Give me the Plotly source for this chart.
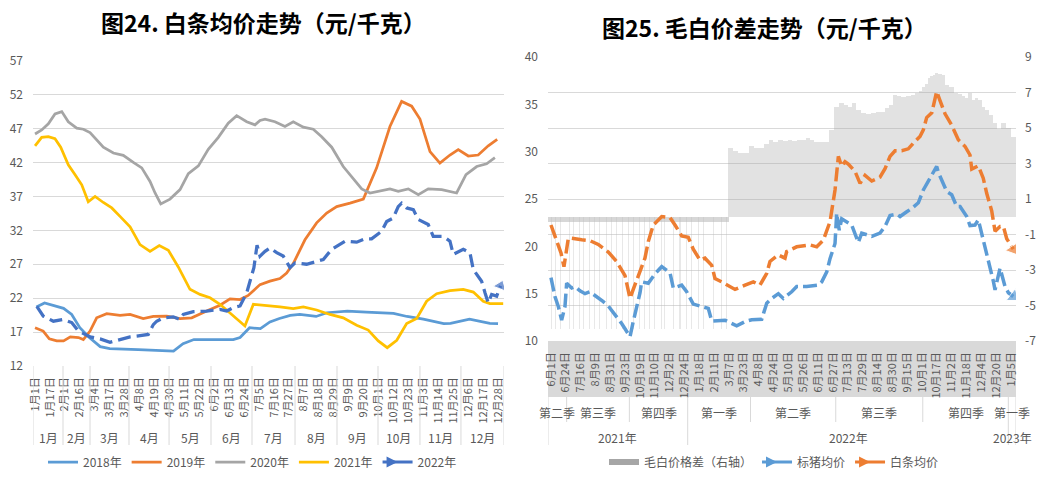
import numpy as np
import plotly.graph_objects as go

W, H = 1043, 477
ML, MR, MT, MB = 33, 27, 57, 111          # plot-area box inside the figure
IW, IH = W - ML - MR, H - MT - MB
FONT = "Noto Sans CJK SC, Noto Sans, sans-serif"
TXT = "#595959"
GRID = "#D9D9D9"

# ======================= 图24  白条均价走势 =======================
# x = category ordinal (row of the daily table), labelled every 11 rows
ticks24 = ["1月1日", "1月17日", "2月1日", "2月16日", "3月4日", "3月17日", "3月28日", "4月8日",
           "4月19日", "4月30日", "5月11日", "5月22日", "6月2日", "6月13日", "6月24日", "7月5日",
           "7月16日", "7月27日", "8月7日", "8月18日", "8月29日", "9月9日", "9月20日", "10月1日",
           "10月12日", "10月23日", "11月3日", "11月14日", "11月25日", "12月6日", "12月17日", "12月28日"]
tick_rows24 = [11 * i for i in range(len(ticks24))]
months24 = ["1月", "2月", "3月", "4月", "5月", "6月", "7月", "8月", "9月", "10月", "11月", "12月"]
month_edges24 = [-1.5, 20.6, 40.5, 69.2, 98.7, 129.6, 159.8, 191.5, 222.4, 252.6, 283.5, 313.7, 345.4]

y2018 = [(1, 20.7), (7, 21.3), (21, 20.5), (27, 19.6), (33, 17.65), (40, 16.2), (48, 14.85), (55, 14.55),
         (76, 14.4), (97, 14.3), (102, 14.2), (109, 15.3), (117, 15.9), (131, 15.9), (146, 15.9), (151, 16.2),
         (158, 17.65), (166, 17.5), (173, 18.5), (180, 19.0), (188, 19.45), (195, 19.6), (207, 19.3),
         (215, 19.85), (230, 20.1), (244, 19.95), (264, 19.75), (274, 19.3), (286, 18.9), (301, 18.25),
         (306, 18.3), (320, 18.9), (330, 18.55), (335, 18.3), (341, 18.25)]
y2019 = [(0, 17.65), (6, 17.15), (10.5, 16.0), (16, 15.7), (21, 15.7), (26, 16.3), (32, 16.2), (35.6, 15.9),
         (40.5, 17.15), (45.4, 19.1), (52.8, 19.7), (62.6, 19.45), (70, 19.6), (79.7, 19.0), (87.1, 19.3),
         (97, 19.35), (106.8, 19.0), (115.4, 19.1), (126.4, 20.1), (136.2, 20.95), (143.6, 21.9), (151, 21.8),
         (157, 22.4), (165.7, 24.0), (173, 24.5), (180.4, 24.9), (185.3, 25.7), (190.2, 27.1), (198.8, 30.6),
         (207.4, 33.1), (214.8, 34.55), (222.2, 35.5), (232, 36.0), (241.8, 36.6), (251.6, 41.2),
         (261.4, 47.3), (270, 51.0), (277.4, 50.3), (283.5, 48.4), (290.9, 43.6), (298.2, 41.9),
         (305.6, 43.1), (311.7, 43.9), (319.1, 42.95), (326.4, 43.1), (333.8, 44.45), (340.4, 45.4)]
y2020 = [(0, 46.2), (4.9, 46.8), (9.8, 47.7), (14.7, 49.15), (19.7, 49.5), (24.5, 48.0), (30.7, 47.05),
         (35.6, 46.9), (40.5, 46.4), (45.4, 45.35), (50.3, 44.25), (57.7, 43.4), (65, 43.05), (72.4, 42.0),
         (78.6, 41.2), (84.7, 39.2), (88.4, 37.5), (92.6, 35.9), (99.4, 36.6), (106.8, 38.0), (112.9, 40.35),
         (120.3, 41.5), (127.6, 43.95), (135, 45.7), (142.3, 47.8), (148.5, 48.9), (155.9, 48.0), (162, 47.55),
         (165.7, 48.2), (169.4, 48.4), (176.7, 48.0), (184.1, 47.3), (190.2, 48.0), (197.6, 47.2),
         (204.9, 46.9), (211.1, 45.8), (218.5, 44.25), (227, 41.4), (233.2, 39.95), (240.6, 38.1),
         (246.7, 37.5), (254, 37.75), (261.4, 38.1), (267.5, 37.75), (274.9, 38.1), (282.3, 37.25),
         (289.6, 38.1), (299.5, 38.0), (310.5, 37.5), (317.4, 40.2), (325.3, 41.4), (332.6, 41.8), (338.7, 42.7)]
y2021 = [(0, 44.45), (4.9, 45.7), (9.8, 45.8), (14.7, 45.5), (18.9, 44.25), (24.5, 41.65), (29.5, 40.2),
         (34.4, 38.7), (39.2, 36.2), (44.2, 37.0), (50.3, 36.1), (56.5, 35.3), (62.6, 34.05), (70, 32.5),
         (77.3, 29.9), (84.7, 28.9), (91.5, 29.75), (98.2, 29.05), (105.5, 26.6), (114.1, 23.3), (121.5, 22.55),
         (128.9, 22.05), (136.2, 21.1), (146, 19.35), (154.6, 17.9), (160.8, 21.1), (170.6, 20.95),
         (180.4, 20.7), (190.2, 20.45), (197.6, 20.7), (207.4, 20.25), (217.2, 19.6), (227, 19.1),
         (236.9, 18.0), (245.4, 17.3), (252.8, 15.7), (259.4, 14.7), (266.4, 15.8), (273.7, 18.25),
         (281.1, 19.0), (288.4, 21.55), (295.8, 22.65), (305.6, 23.1), (315.4, 23.3), (322.8, 22.9),
         (330.1, 21.55), (335, 21.2), (344.8, 21.2)]
y2022 = [(1.3, 20.8), (6.1, 19.35), (13.5, 18.6), (20.8, 18.85), (27, 18.4), (31.9, 17.15), (40.5, 16.3),
         (47.9, 16.0), (55.2, 15.5), (62.6, 15.9), (70, 16.3), (74.9, 16.4), (83.4, 16.65), (87.1, 18.1),
         (89.6, 18.6), (94.5, 19.1), (101.8, 19.25), (106.8, 18.85), (109.2, 19.6), (116.6, 20.0),
         (126.4, 20.1), (136.2, 20.35), (141.2, 20.1), (146, 20.6), (151, 20.85), (155.9, 22.8),
         (158.3, 24.5), (161.2, 26.5), (163.5, 29.8), (165.7, 28.2), (169.4, 28.9), (173, 29.4), (178, 28.7),
         (182.8, 28.2), (187.8, 26.5), (191.5, 27.2), (200, 27.0), (207.4, 27.45), (212.3, 27.7),
         (218.5, 29.2), (224.6, 29.9), (228.3, 30.4), (236.9, 30.25), (243, 30.75), (247.9, 30.75),
         (255.3, 31.85), (259, 33.3), (263.8, 33.8), (267.5, 35.5), (270, 36.0), (273.7, 35.3), (278.6, 35.05),
         (282.3, 33.6), (289.6, 32.85), (293.3, 31.1), (300.7, 31.1), (305.6, 30.4), (308, 28.45),
         (315.4, 29.2), (320.3, 28.7), (322.8, 26.2), (328.9, 24.5), (331.4, 22.8), (333.8, 21.3),
         (336.3, 22.55), (340, 22.3), (342.9, 23.8)]

# ======================= 图25  毛白价差走势 =======================
# x = category ordinal (trading-day row), labelled every 16 rows
ticks25 = ["6月1日", "6月24日", "7月16日", "8月9日", "8月31日", "9月23日", "10月19日", "11月10日",
           "12月2日", "12月24日", "1月18日", "2月11日", "3月7日", "3月23日", "4月8日", "4月24日",
           "5月10日", "5月26日", "6月11日", "6月27日", "7月13日", "7月29日", "8月14日", "8月30日",
           "9月15日", "10月1日", "10月17日", "11月2日", "11月18日", "12月4日", "12月20日", "1月5日"]
tick_rows25 = [16 * i for i in range(len(ticks25))]
quarters25 = ["第二季", "第三季", "第四季", "第一季", "第二季", "第三季", "第四季", "第一季"]
quarter_edges25 = [-3.2, 16.9, 84.5, 147.4, 215.1, 307, 400.8, 493, 501.3]
years25 = ["2021年", "2022年", "2023年"]
year_edges25 = [-3.2, 147.4, 493, 501.3]

pig_price = [(0, 16.7), (4.3, 14.7), (7.9, 13.65), (11.5, 12.2), (15.1, 13.65), (16.9, 16.1), (22.3, 15.6),
             (25.9, 15.75), (31.3, 15.3), (36.7, 15.0), (42, 15.2), (49.3, 14.7), (56.4, 14.15), (61.8, 13.7),
             (69, 12.8), (76.2, 11.85), (79.8, 11.3), (85.2, 10.45), (88.7, 12.05), (92.4, 13.45), (96, 15.1),
             (97.8, 16.25), (104.9, 16.1), (112.1, 17.1), (119.4, 17.85), (128.3, 17.2), (131.9, 15.6),
             (140.9, 15.9), (146.3, 15.2), (153.4, 13.9), (160.6, 13.7), (169.6, 13.45), (173.3, 12.1),
             (184, 12.2), (187.6, 12.2), (200.2, 11.6), (205.6, 11.85), (209.2, 12.05), (216.4, 12.25),
             (227.2, 12.3), (232.6, 14.0), (238, 14.5), (245.1, 15.0), (250.5, 14.5), (259.5, 15.2),
             (264.9, 15.75), (275.7, 15.75), (288.2, 15.9), (291.9, 16.25), (297.3, 17.3), (300.8, 18.7),
             (306.2, 20.3), (308, 23.5), (310.8, 21.7), (313.4, 22.9), (318.8, 22.6), (324.2, 22.25),
             (331.3, 20.4), (335, 21.4), (345.8, 21.05), (354.7, 21.4), (360.1, 22.1), (365.5, 23.25),
             (372.7, 23.4), (376.3, 23.15), (383.5, 23.65), (388.9, 24.0), (396, 24.6), (401.4, 25.95),
             (408.6, 27.2), (412.2, 27.9), (415.8, 28.45), (417.6, 27.8), (423, 26.5), (426.6, 25.8),
             (432, 25.45), (437.4, 24.2), (441, 24.2), (448.2, 23.15), (451.7, 22.2), (457.1, 22.25),
             (460.7, 22.8), (462.5, 22.1), (466, 20.65), (469.7, 19.1), (473.3, 17.85), (476.9, 16.3),
             (478.7, 15.4), (484.1, 17.7), (489.5, 15.75), (493.1, 15.1), (498.4, 14.7)]
carcass_price = [(0, 22.25), (6.1, 20.5), (10.8, 19.3), (14, 17.85), (16.2, 19.5), (18.7, 20.85), (22.3, 20.85),
                 (27.7, 20.75), (33.1, 20.7), (42, 20.6), (51, 20.2), (61.8, 19.4), (70.8, 18.4), (79.8, 16.9),
                 (85.2, 14.5), (88.7, 15.45), (94.1, 16.95), (101.3, 18.75), (104.9, 20.5), (110.3, 22.25),
                 (119.4, 23.15), (128.3, 23.05), (133.7, 22.25), (140.9, 21.1), (148, 20.95), (153.4, 19.7),
                 (160.6, 18.55), (166, 18.75), (173.3, 18.0), (176.8, 16.6), (184, 16.25), (191.2, 15.9),
                 (198.4, 15.45), (209.2, 15.9), (218.1, 16.25), (225.3, 15.9), (232.6, 17.15), (236.1, 18.4),
                 (245.1, 19.1), (252.3, 18.75), (254.1, 19.45), (264.9, 19.95), (279.2, 20.15), (286.5, 19.95),
                 (293.6, 20.65), (300.8, 22.6), (306.2, 25.95), (309.8, 29.5), (313.4, 28.45), (317, 28.95),
                 (320.5, 28.7), (327.8, 27.9), (333.2, 26.65), (338.6, 27.5), (345.8, 26.9), (354.7, 27.3),
                 (360.1, 28.2), (365.5, 29.5), (370.9, 30.1), (378.1, 30.1), (385.2, 30.3), (390.6, 30.9),
                 (397.8, 31.6), (401.4, 32.3), (405, 33.6), (410.5, 34.1), (415.8, 36.35), (419.4, 35.4),
                 (424.8, 34.0), (432, 32.8), (439.1, 31.25), (446.4, 30.55), (451.7, 29.65), (453.6, 28.15),
                 (460.7, 28.5), (466, 27.2), (469.7, 25.6), (475.1, 23.75), (478.7, 21.6), (484.1, 22.1),
                 (487.7, 22.1), (491.3, 20.8), (498.4, 19.7)]
# 毛白价格差 (right axis)
spread_2021_rows = [0.8, 5.4, 10.5, 19.7, 24, 30.5, 34.8, 41.3, 47.4, 52.8, 60, 65.4, 70.8, 77.3, 83.3, 88.7,
                    95.9, 101.3, 106.7, 112.1, 119.4, 122.9, 131.9, 139.1, 146.3, 151.7, 158.8, 164.2, 175,
                    184, 189.4]
spread_2021_small = -0.28
spread_2021_spike = -6.3
spread_2022 = [(193, 3.85), (198.4, 3.7), (205.6, 3.58), (210, 3.6), (216.4, 3.99), (221, 3.9), (227.2, 3.9),
               (232, 4.1), (238, 4.3), (241.5, 4.2), (246.9, 4.3), (252.3, 4.25), (257.7, 4.3), (263, 4.25),
               (268.5, 4.3), (272.8, 4.35), (277.4, 4.42), (281.4, 4.3), (286.5, 4.23), (291.1, 4.2),
               (297.3, 4.23), (302.6, 4.89), (308, 6.2), (313.4, 6.39), (318.8, 6.3), (322.4, 6.2), (326, 6.39),
               (331.3, 6.0), (336.7, 5.83), (341.8, 5.8), (347.5, 5.83), (352.6, 5.9), (358.3, 5.92),
               (362.3, 6.1), (367.3, 6.3), (370.9, 6.86), (375.2, 6.8), (379.8, 6.76), (384.9, 6.8),
               (390.6, 6.86), (394.6, 6.95), (397.8, 7.1), (401.6, 7.3), (405, 7.5), (407.5, 7.8), (410.5, 7.95),
               (413, 8.0), (415.8, 8.08), (419.4, 8.05), (423, 8.0), (426.6, 7.4), (432, 7.3), (437.4, 6.95),
               (441, 6.9), (444.6, 6.8), (448.2, 6.7), (451.7, 7.0), (455.3, 6.56), (459, 6.67), (462.5, 6.6),
               (466, 6.2), (470, 6.0), (475.1, 5.75), (478.7, 5.3), (482.3, 4.95), (487.7, 5.26), (493.1, 5.0),
               (498.4, 4.51)]


def xs(pairs):
    return [p[0] for p in pairs]


def vs(pairs):
    return [p[1] for p in pairs]


def px_x(px):          # figure pixel -> paper x (plot-area box)
    return (px - ML) / IW


def px_y(px):          # figure pixel (from top) -> paper y
    return (H - MB - px) / IH


def bar_edges(rows, left=None):
    r = np.asarray(rows, float)
    mids = (r[1:] + r[:-1]) / 2
    first = r[0] - (r[1] - r[0]) / 2 if left is None else left
    last = r[-1] + (r[-1] - r[-2]) / 2
    e = np.concatenate([[first], mids, [last]])
    return r, e[:-1] - r, np.diff(e)


fig = go.Figure()

# ---------- left chart ----------
for name, data, col in [("2018年", y2018, "#5B9BD5"), ("2019年", y2019, "#ED7D31"),
                        ("2020年", y2020, "#A5A5A5"), ("2021年", y2021, "#FFC000")]:
    fig.add_trace(go.Scatter(x=xs(data), y=vs(data), mode="lines", name=name,
                             line=dict(color=col, width=2.75), xaxis="x", yaxis="y", legend="legend"))
C22 = "#4472C4"
fig.add_trace(go.Scatter(x=xs(y2022), y=vs(y2022), mode="lines", showlegend=False,
                         line=dict(color=C22, width=3.25, dash="13px,6px"), xaxis="x", yaxis="y"))
fig.add_trace(go.Scatter(x=xs(y2022)[-2:], y=vs(y2022)[-2:], mode="markers", showlegend=False,
                         marker=dict(symbol="triangle-up", angleref="previous", size=[0, 12], color=C22),
                         xaxis="x", yaxis="y"))
fig.add_trace(go.Scatter(x=[None], y=[None], mode="lines+markers", name="2022年",
                         line=dict(color=C22, width=3), marker=dict(symbol="arrow-right", size=11, color=C22),
                         xaxis="x", yaxis="y", legend="legend"))

# ---------- right chart: bars ----------
r, off, wid = bar_edges(spread_2021_rows, left=-3.2)
fig.add_trace(go.Bar(x=r, y=[spread_2021_small] * len(r), offset=off, width=wid, showlegend=False,
                     marker=dict(color="rgba(160,160,160,0.42)", line=dict(width=0)), xaxis="x2", yaxis="y2"))
fig.add_trace(go.Bar(x=spread_2021_rows, y=[spread_2021_spike] * len(spread_2021_rows), width=1.1,
                     showlegend=False, marker=dict(color="rgba(190,190,190,0.35)", line=dict(width=0)),
                     xaxis="x2", yaxis="y2"))
r, off, wid = bar_edges(xs(spread_2022))
fig.add_trace(go.Bar(x=r, y=vs(spread_2022), offset=off, width=wid, showlegend=False,
                     marker=dict(color="rgba(166,166,166,0.33)", line=dict(width=0)), xaxis="x2", yaxis="y2"))
fig.add_trace(go.Scatter(x=[None], y=[None], mode="lines", name="毛白价格差（右轴）",
                         line=dict(color="#A6A6A6", width=6), xaxis="x2", yaxis="y3", legend="legend2"))

# ---------- right chart: price lines ----------
for name, data, col in [("标猪均价", pig_price, "#5B9BD5"), ("白条均价", carcass_price, "#ED7D31")]:
    fig.add_trace(go.Scatter(x=xs(data), y=vs(data), mode="lines", showlegend=False,
                             line=dict(color=col, width=3.5, dash="14px,5px"), xaxis="x2", yaxis="y3"))
    fig.add_trace(go.Scatter(x=xs(data)[-2:], y=vs(data)[-2:], mode="markers", showlegend=False,
                             marker=dict(symbol="triangle-up", angleref="previous", size=[0, 13], color=col),
                             xaxis="x2", yaxis="y3"))
    fig.add_trace(go.Scatter(x=[None], y=[None], mode="lines+markers", name=name,
                             line=dict(color=col, width=3), marker=dict(symbol="arrow-right", size=11, color=col),
                             xaxis="x2", yaxis="y3", legend="legend2"))

# ---------- decorations: category groups ----------
shapes, annos = [], []
for e in month_edges24:
    shapes.append(dict(type="line", xref="x", yref="paper", x0=e, x1=e, y0=px_y(366), y1=px_y(445),
                       line=dict(color=GRID, width=1)))
for i, m in enumerate(months24):
    annos.append(dict(text=m, xref="x", yref="paper", x=(month_edges24[i] + month_edges24[i + 1]) / 2,
                      y=px_y(437), showarrow=False, xanchor="center", yanchor="middle",
                      font=dict(size=12, color=TXT, family=FONT)))

shapes.append(dict(type="rect", xref="paper", yref="paper", x0=px_x(548), x1=px_x(1016), y0=px_y(341),
                   y1=px_y(397), fillcolor="#D9D9D9", line=dict(width=0), layer="below"))
for e in quarter_edges25:
    if e in year_edges25:
        continue
    shapes.append(dict(type="line", xref="x2", yref="paper", x0=e, x1=e, y0=px_y(397), y1=px_y(422),
                       line=dict(color=GRID, width=1)))
for e in year_edges25:
    shapes.append(dict(type="line", xref="x2", yref="paper", x0=e, x1=e, y0=px_y(397), y1=px_y(445),
                       line=dict(color=GRID, width=1)))
for i, q in enumerate(quarters25):
    annos.append(dict(text=q, xref="x2", yref="paper", x=(quarter_edges25[i] + quarter_edges25[i + 1]) / 2,
                      y=px_y(412), showarrow=False, xanchor="center", yanchor="middle",
                      font=dict(size=12, color=TXT, family=FONT)))
for i, yv in enumerate(years25):
    annos.append(dict(text=yv, xref="x2", yref="paper", x=(year_edges25[i] + year_edges25[i + 1]) / 2,
                      y=px_y(437), showarrow=False, xanchor="center", yanchor="middle",
                      font=dict(size=12, color=TXT, family=FONT)))

annos.append(dict(text="图24. 白条均价走势（元/千克）", xref="paper", yref="paper", x=px_x(263), y=px_y(22),
                  showarrow=False, xanchor="center", yanchor="middle",
                  font=dict(size=23, color="#000000", family=FONT, weight=700)))
annos.append(dict(text="图25. 毛白价差走势（元/千克）", xref="paper", yref="paper", x=px_x(764), y=px_y(27),
                  showarrow=False, xanchor="center", yanchor="middle",
                  font=dict(size=23, color="#000000", family=FONT, weight=700)))

tickfont = dict(size=12, color=TXT, family=FONT)
xtickfont = dict(size=11, color=TXT, family=FONT)

fig.update_layout(
    width=W, height=H, margin=dict(l=ML, r=MR, t=MT, b=MB, autoexpand=False),
    paper_bgcolor="white", plot_bgcolor="white", barmode="overlay", bargap=0,
    font=dict(family=FONT, color=TXT), hovermode=False,
    xaxis=dict(domain=[0, px_x(504)], range=[month_edges24[0], month_edges24[-1]], anchor="y",
               tickmode="array", tickvals=tick_rows24, ticktext=ticks24, tickangle=-90, tickfont=xtickfont,
               showgrid=False, zeroline=False, showline=False, ticks="", ticklabelstandoff=8),
    yaxis=dict(domain=[0, px_y(60.7)], range=[12, 57], anchor="x", tickmode="array",
               tickvals=list(range(12, 58, 5)), tickfont=tickfont, showgrid=True, gridcolor=GRID,
               zeroline=False, showline=False, ticks="", ticklabelstandoff=9),
    xaxis2=dict(domain=[px_x(548), 1], range=[quarter_edges25[0], quarter_edges25[-1]], anchor="y2",
                tickmode="array", tickvals=tick_rows25, ticktext=ticks25, tickangle=-90, tickfont=xtickfont,
                showgrid=False, zeroline=False, showline=False, ticks="", ticklabelstandoff=8),
    yaxis2=dict(domain=[px_y(341), 1], range=[-7, 9], anchor="x2", side="right", tickmode="array",
                tickvals=list(range(-7, 10, 2)), ticktext=[str(v) for v in range(-7, 10, 2)],
                tickfont=tickfont, showgrid=True, gridcolor=GRID, zeroline=False, showline=False,
                ticks="", ticklabelstandoff=8),
    yaxis3=dict(range=[10, 40], anchor="x2", overlaying="y2", side="left", tickmode="array",
                tickvals=list(range(10, 41, 5)), tickfont=tickfont, showgrid=False, zeroline=False,
                showline=False, ticks="", ticklabelstandoff=9),
    legend=dict(orientation="h", x=px_x(43), y=px_y(462), xanchor="left", yanchor="middle",
                font=dict(size=12, color=TXT, family=FONT), bgcolor="rgba(0,0,0,0)"),
    legend2=dict(orientation="h", x=px_x(604), y=px_y(462), xanchor="left", yanchor="middle",
                 font=dict(size=12, color=TXT, family=FONT), bgcolor="rgba(0,0,0,0)"),
    shapes=shapes, annotations=annos,
)

# the page body has a default 8px margin; remove it so the figure sits at the window's origin
fig.write_html("out.html", config={"displayModeBar": False},
               post_script="document.body.style.margin='0';")
